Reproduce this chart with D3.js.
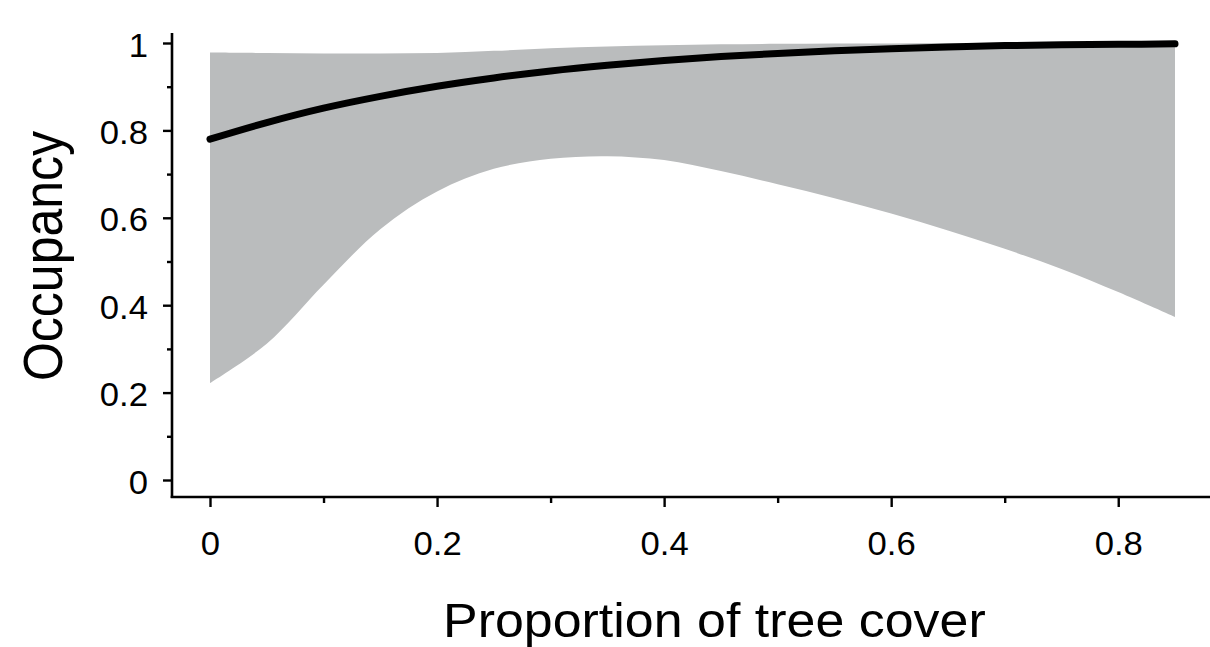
<!DOCTYPE html>
<html>
<head>
<meta charset="utf-8">
<script src="https://cdn.jsdelivr.net/npm/d3@7"></script>
<style>
  html, body { margin: 0; padding: 0; background: #fff; }
  svg { display: block; }
  text { font-family: "Liberation Sans", Arial, sans-serif; fill: #000; }
</style>
</head>
<body>
<svg id="chart" width="1210" height="647"></svg>
<script>
// ---- data ----
const treeCover = [0, 0.05, 0.1, 0.15, 0.2, 0.25, 0.3, 0.35, 0.4, 0.45, 0.5, 0.55, 0.6, 0.65, 0.7, 0.75, 0.8, 0.85];
const occupancy = [0.780, 0.818, 0.851, 0.878, 0.901, 0.920, 0.936, 0.949, 0.960, 0.969, 0.976, 0.982, 0.987, 0.991, 0.994, 0.996, 0.997, 0.998];
const lowerCI   = [0.222, 0.312, 0.447, 0.574, 0.660, 0.712, 0.735, 0.741, 0.732, 0.707, 0.677, 0.645, 0.610, 0.571, 0.529, 0.483, 0.430, 0.373];
const upperCI   = [0.978, 0.977, 0.976, 0.976, 0.977, 0.982, 0.988, 0.992, 0.995, 0.997, 0.998, 0.999, 0.999, 1.0, 1.0, 1.0, 1.0, 1.0];
const xMajorTicks = [0, 0.2, 0.4, 0.6, 0.8];
const xMinorTicks = [0.1, 0.3, 0.5, 0.7];
const yMajorTicks = [0, 0.2, 0.4, 0.6, 0.8, 1];
const yMinorTicks = [0.1, 0.3, 0.5, 0.7, 0.9];
const xTitle = "Proportion of tree cover";
const yTitle = "Occupancy";

const rows = treeCover.map((x, i) => ({ x, y: occupancy[i], lo: lowerCI[i], hi: upperCI[i] }));

const svg = d3.select("#chart");
const x = d3.scaleLinear().domain([0, 0.85]).range([210, 1175]);
const y = d3.scaleLinear().domain([0, 1]).range([480, 43]);
const axisX = 172, axisY = 497;
const stretch = 1.02;
const curve = d3.curveCatmullRom.alpha(0.5);

// band
svg.append("path")
  .datum(rows)
  .attr("fill", "#babcbd")
  .attr("d", d3.area().x(d => x(d.x)).y0(d => y(d.lo)).y1(d => y(d.hi)).curve(curve));

// line
svg.append("path")
  .datum(rows)
  .attr("fill", "none")
  .attr("stroke", "#000")
  .attr("stroke-width", 7)
  .attr("stroke-linecap", "round")
  .attr("d", d3.line().x(d => x(d.x)).y(d => y(d.y)).curve(curve));

// y axis
const gy = svg.append("g").attr("transform", `translate(${axisX},0)`);
gy.call(d3.axisLeft(y).tickValues(yMajorTicks).tickSize(9).tickFormat(d3.format("~g")));
gy.append("g").call(d3.axisLeft(y).tickValues(yMinorTicks).tickSize(5).tickFormat(""));
gy.selectAll(".domain").remove();
gy.append("line").attr("x1", 0).attr("x2", 0).attr("y1", 33).attr("y2", axisY + 1)
  .attr("stroke", "#000").attr("stroke-width", 2.6);
gy.selectAll(".tick line").attr("stroke", "#000").attr("stroke-width", 2.4);
gy.selectAll(".tick text")
  .attr("x", null).attr("dy", null)
  .attr("text-anchor", "end")
  .attr("transform", `translate(-24,13) scale(${stretch},1)`)
  .style("font-size", "34px")
  .style("font-family", "'Liberation Sans', Arial, sans-serif");

// x axis
const gx = svg.append("g").attr("transform", `translate(0,${axisY})`);
gx.call(d3.axisBottom(x).tickValues(xMajorTicks).tickSize(10).tickFormat(d3.format("~g")));
gx.append("g").call(d3.axisBottom(x).tickValues(xMinorTicks).tickSize(6).tickFormat(""));
gx.selectAll(".domain").remove();
gx.append("line").attr("x1", axisX - 1.3).attr("x2", 1210).attr("y1", 0).attr("y2", 0)
  .attr("stroke", "#000").attr("stroke-width", 2.6);
gx.selectAll(".tick line").attr("stroke", "#000").attr("stroke-width", 2.4);
gx.selectAll(".tick text")
  .attr("y", null).attr("dy", null)
  .attr("text-anchor", "middle")
  .attr("transform", `translate(0,58) scale(${stretch},1)`)
  .style("font-size", "34px")
  .style("font-family", "'Liberation Sans', Arial, sans-serif");

// titles
svg.append("text")
  .attr("text-anchor", "start")
  .attr("transform", "translate(443,637) scale(1.06,1)")
  .style("font-size", "49px")
  .text(xTitle);

svg.append("text")
  .attr("text-anchor", "middle")
  .attr("transform", `translate(62,256) scale(1.1,1) rotate(-90)`)
  .style("font-size", "50px")
  .text(yTitle);
</script>
</body>
</html>
